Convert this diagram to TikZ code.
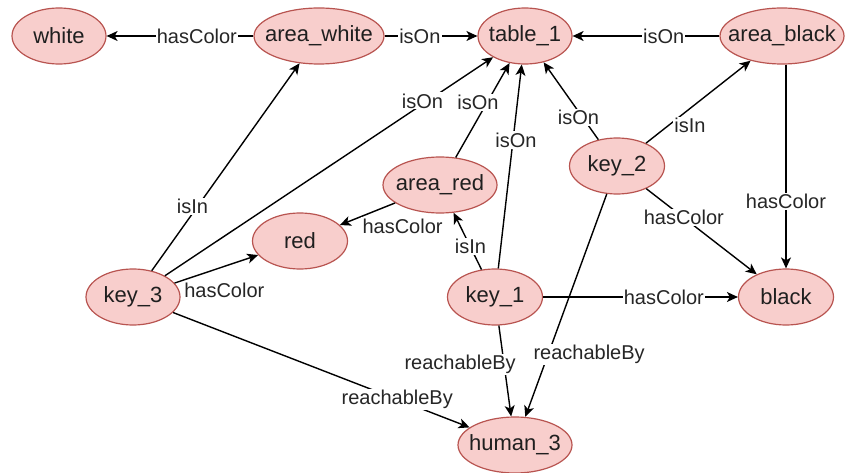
\documentclass[tikz,border=0pt]{standalone}
\usepackage{fontspec}
\setmainfont{Liberation Sans}
\usetikzlibrary{shapes.geometric,arrows.meta}
\definecolor{entfill}{HTML}{F8CECC}
\definecolor{entdraw}{HTML}{B85450}
\begin{document}
\begin{tikzpicture}[x=1pt,y=-1pt,
  ent/.style={ellipse, draw=entdraw, fill=entfill, line width=1.2pt,
    minimum height=56pt, inner sep=0pt,
    label={[font=\fontsize{22}{26}\selectfont, text=black!88]center:#1}},
  arr/.style={draw=black, line width=1.4pt,
    -{Stealth[length=11pt,width=10pt,inset=3pt]}},
  lbl/.style={fill=white, inner sep=1.2pt, font=\fontsize{20}{24}\selectfont, text=black!85},
]
\useasboundingbox (0,0) rectangle (845,473);
% nodes
\node[ent={white},      minimum width=94pt]  (white)      at (59,36)  {};
\node[ent={area\_white}, minimum width=130pt] (area_white) at (319,36) {};
\node[ent={table\_1},    minimum width=94pt]  (table_1)    at (525,36) {};
\node[ent={area\_black}, minimum width=124pt] (area_black) at (782,36) {};
\node[ent={area\_red},   minimum width=114pt] (area_red)   at (440,185) {};
\node[ent={key\_2},      minimum width=95pt]  (key_2)      at (617,166) {};
\node[ent={red},         minimum width=95pt]  (red)        at (300,241) {};
\node[ent={key\_3},      minimum width=94pt]  (key_3)      at (133,297) {};
\node[ent={key\_1},      minimum width=95pt]  (key_1)      at (495,297) {};
\node[ent={black},       minimum width=95pt]  (black)      at (786,297) {};
\node[ent={human\_3},    minimum width=114pt] (human_3)    at (515,445) {};
% edges
\draw[arr] (area_white) -- node[lbl,pos=0.385]{hasColor} (white);
\draw[arr] (area_white) -- node[lbl,pos=0.38]{isOn} (table_1);
\draw[arr] (area_black) -- node[lbl,pos=0.38]{isOn} (table_1);
\draw[arr] (key_3) -- node[lbl,pos=0.31,xshift=-5pt]{isIn} (area_white);
\draw[arr] (key_3) -- node[lbl,pos=0.8,xshift=-5pt]{isOn} (table_1);
\draw[arr] (area_red) -- node[lbl,pos=0.58,xshift=-9pt]{isOn} (table_1);
\draw[arr] (key_1) -- node[lbl,pos=0.63,xshift=3pt]{isOn} (table_1);
\draw[arr] (key_2) -- node[lbl,pos=0.29,xshift=-4pt]{isOn} (table_1);
\draw[arr] (key_2) -- node[lbl,pos=0.42,yshift=-17pt]{isIn} (area_black);
\draw[arr] (black.north |- area_black.south) -- node[lbl,pos=0.67]{hasColor} (black);
\draw[arr] (key_2) -- node[lbl,pos=0.34]{hasColor} (black);
\draw[arr] (area_red) -- node[lbl,pos=0.5,xshift=35pt,yshift=-12pt]{hasColor} (red);
\draw[arr] (key_1) -- node[lbl,pos=0.4]{isIn} (area_red);
\draw[arr] (key_3) -- node[lbl,pos=0.5,xshift=8pt,yshift=-21pt]{hasColor} (red);
\draw[arr] (key_1) -- node[lbl,pos=0.62]{hasColor} (black);
\draw[arr] (key_1) -- node[lbl,pos=0.43,xshift=-44pt]{reachableBy} (human_3);
\draw[arr] (key_2) -- node[lbl,pos=0.72,xshift=41pt]{reachableBy} (human_3);
\draw[arr] (key_3) -- node[lbl,pos=0.756]{reachableBy} (human_3);
\end{tikzpicture}
\end{document}
